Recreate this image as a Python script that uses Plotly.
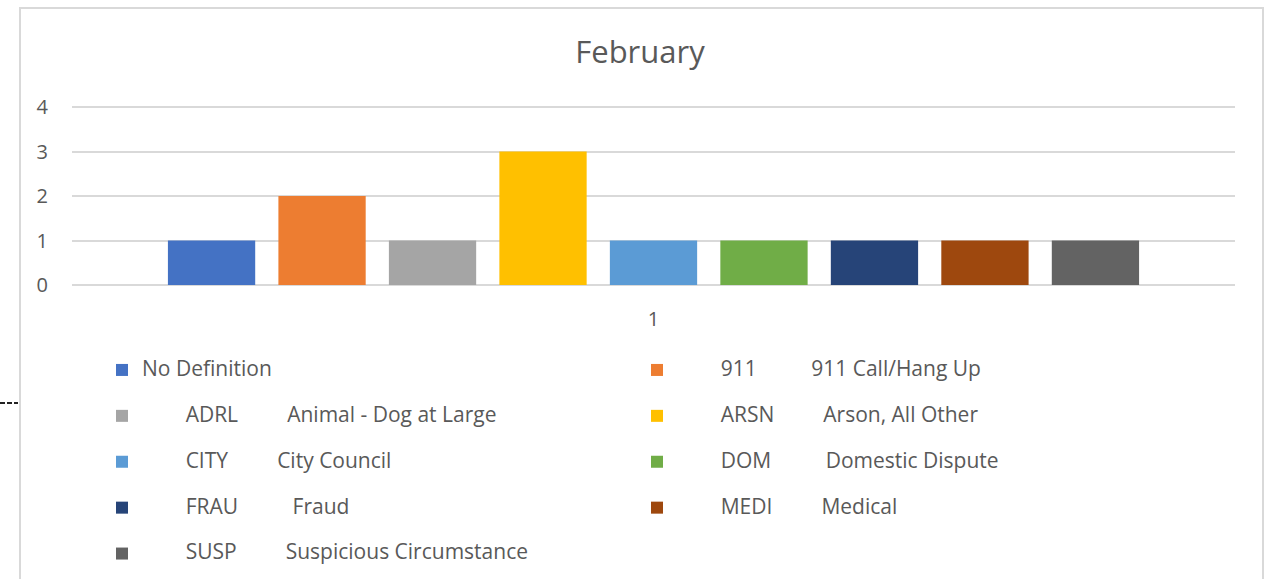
import plotly.graph_objects as go

NB = "\u00a0"

categories = ["1"]
codes = ["", "911", "ADRL", "ARSN", "CITY", "DOM", "FRAU", "MEDI", "SUSP"]
descriptions = ["No Definition", "911 Call/Hang Up", "Animal - Dog at Large",
                "Arson, All Other", "City Council", "Domestic Dispute",
                "Fraud", "Medical", "Suspicious Circumstance"]
counts = [1, 2, 1, 3, 1, 1, 1, 1, 1]
colors = ["#4472C4", "#ED7D31", "#A5A5A5", "#FFC000", "#5B9BD5",
          "#70AD47", "#264478", "#9E480E", "#636363"]

# leading / middle padding so the legend columns line up like the original
lead = [0, 8, 8, 8, 8, 8, 8, 8, 8]
mid = [0, 10, 9, 9, 9, 10, 10, 9, 9]

TXT = "#595959"
GRID = "#D9D9D9"
FONT = "Open Sans, Arial, sans-serif"


def legend_label(i):
    if not codes[i]:
        txt = descriptions[i]
    else:
        txt = NB * lead[i] + codes[i] + NB * mid[i] + descriptions[i]
    return f'<span style="font-size:21px;baseline-shift:7px">{txt}</span>'


fig = go.Figure()
for i in range(len(counts)):
    fig.add_trace(go.Bar(
        x=categories, y=[counts[i]], name=legend_label(i),
        marker=dict(color=colors[i], line=dict(width=0)),
    ))

# plot area in pixels: x 72..1235, y 105..285 (44.5 px per unit)
L, R, T, B = 72, 1235, 105, 285
W, H = R - L, B - T
UNIT = 44.5


def px_x(p):
    return (p - L) / W


def px_y(p):
    return (B - p) / H


fig.update_layout(
    width=1272, height=579,
    margin=dict(l=L, r=1272 - R, t=T, b=579 - B, autoexpand=False),
    paper_bgcolor="white", plot_bgcolor="white",
    font=dict(family=FONT, color=TXT, size=20),
    title=dict(text="February", x=640 / 1272, xanchor="center",
               y=1 - 52 / 579, yanchor="middle", yref="container",
               font=dict(size=31, color=TXT, family=FONT)),
    barmode="group", bargap=0.145, bargroupgap=0.21,
    xaxis=dict(type="category", showgrid=False, showline=False, zeroline=False,
               ticks="outside", ticklen=16, tickcolor="rgba(0,0,0,0)",
               tickfont=dict(size=20, color=TXT)),
    yaxis=dict(range=[0, H / UNIT], tickvals=[0, 1, 2, 3, 4],
               showgrid=True, gridcolor=GRID, gridwidth=2,
               zeroline=True, zerolinecolor=GRID, zerolinewidth=2, showline=False,
               ticks="outside", ticklen=19, tickcolor="rgba(0,0,0,0)",
               tickfont=dict(size=20, color=TXT)),
    legend=dict(orientation="h", x=px_x(102), xanchor="left",
                y=px_y(342), yanchor="top",
                entrywidthmode="pixels", entrywidth=490,
                font=dict(size=33, color=TXT, family=FONT),
                bgcolor="rgba(0,0,0,0)", traceorder="normal"),
    showlegend=True,
    shapes=[
        dict(type="rect", xref="paper", yref="paper",
             x0=px_x(20), x1=px_x(1263), y0=px_y(8), y1=px_y(620),
             line=dict(color=GRID, width=2), layer="below"),
        dict(type="line", xref="paper", yref="paper",
             x0=px_x(0), x1=px_x(18), y0=px_y(403), y1=px_y(403),
             line=dict(color="#222222", width=2, dash="5px,2px")),
    ],
)

fig.write_html("out.html", config={"displayModeBar": False},
               post_script="document.body.style.margin='0';")
